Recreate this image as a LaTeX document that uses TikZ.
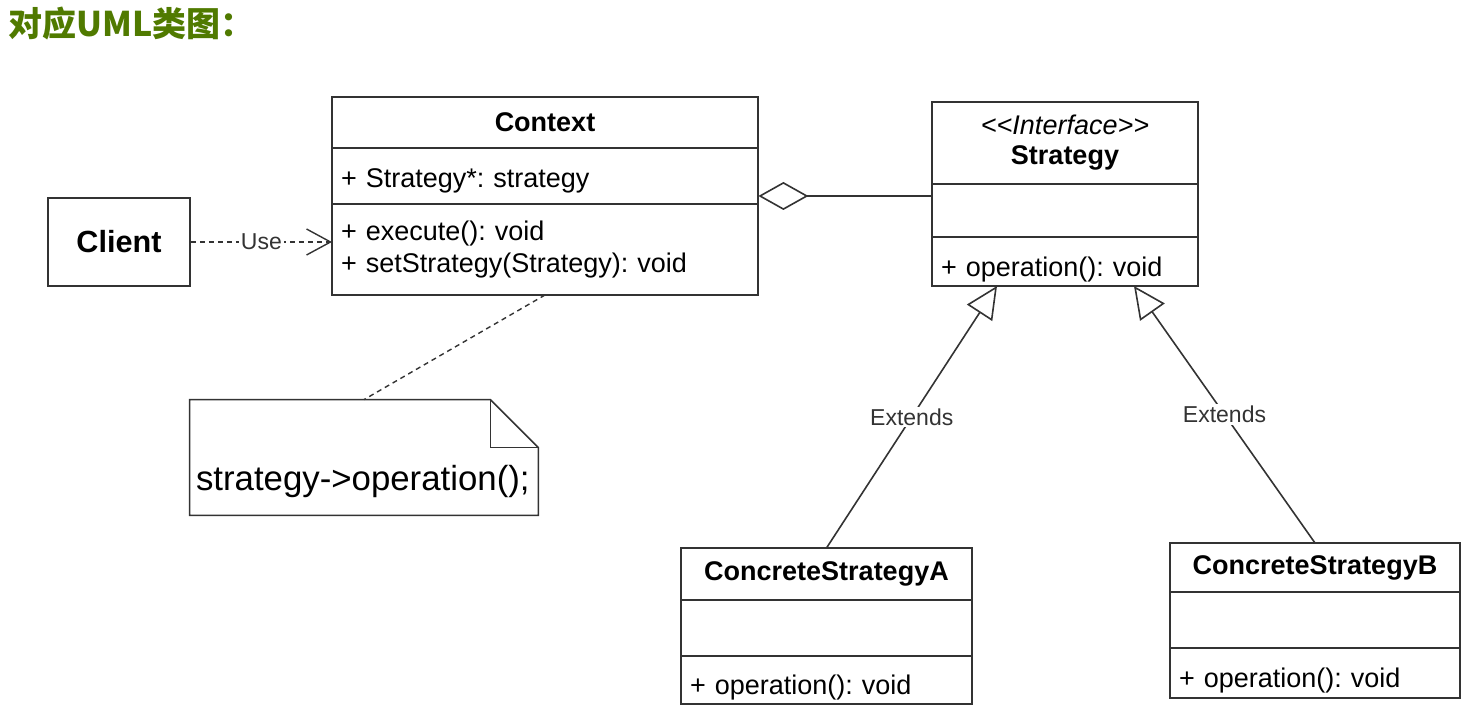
\documentclass[tikz,border=0pt]{standalone}
\usepackage{fontspec}
\setmainfont{Liberation Sans}
\newfontfamily\cjk{Noto Sans CJK SC}
\usepackage{tikz}
\usetikzlibrary{
    arrows.meta,
    positioning,
    fit
}
\usepackage{xcolor}
\frenchspacing
\definecolor{titlegreen}{RGB}{80,122,0}
\definecolor{umlline}{RGB}{51,51,51}
\tikzstyle{classname} = [
    rectangle,
    draw=umlline,
    line width=0.8pt,
    outer sep=0pt,
    inner sep=0pt,
    text centered,
    font=\fontsize{13.5}{16}\selectfont\bfseries
]
\tikzstyle{classpart} = [
    rectangle,
    draw=umlline,
    line width=0.8pt,
    outer sep=0pt,
    inner xsep=4.5pt,
    inner ysep=0pt,
    align=left,
    font=\fontsize{13.5}{16}\selectfont
]
\tikzstyle{oppart} = [
    classpart,
    text height=15pt,
    text depth=0pt
]
\tikzstyle{plainbox} = [
    rectangle,
    draw=umlline,
    line width=0.8pt,
    minimum width=71pt,
    minimum height=44pt,
    font=\fontsize{15.3}{18}\selectfont\bfseries
]
\tikzstyle{dep} = [
    draw=umlline,
    line width=0.7pt,
    dash pattern=on 2.5pt off 2pt,
    -{Straight Barb[length=12pt,width=13pt]}
]
\tikzstyle{aggr} = [
    draw=umlline,
    line width=0.8pt,
    {Diamond[open,fill=white,length=25pt,width=14pt]}-
]
\tikzstyle{extends} = [
    draw=umlline,
    line width=0.8pt,
    -{Triangle[open,fill=white,length=16pt,width=15pt]}
]
\tikzstyle{notelink} = [
    draw=umlline,
    line width=0.7pt,
    dash pattern=on 2.5pt off 2pt
]
\tikzstyle{noteline} = [
    draw=umlline,
    line width=0.8pt,
    line join=miter
]
\tikzstyle{linklabel} = [
    fill=white,
    inner sep=1pt,
    text=black!80,
    font=\fontsize{11.5}{14}\selectfont
]

\begin{document}
\begin{tikzpicture}[x=0.5pt, y=-0.5pt]
        \useasboundingbox (0,0) rectangle (1474,721);

        \node[anchor=west, inner sep=0pt, text=titlegreen,
              font=\cjk\bfseries\fontsize{17}{19}\selectfont] (title) at (8,24) {对应UML类图：};

        % Context
        \node[classname, minimum width=213pt, minimum height=25.5pt] (ctxname) at (545,122.5) {Context};
        \node[classpart, text width=204pt, minimum height=28pt, text height=12pt, text depth=0.5pt,
              below=0pt of ctxname] (ctxattr) {+ Strategy*: strategy};
        \node[classpart, text width=204pt, minimum height=45.5pt, below=0pt of ctxattr] (ctxops)
            {+ execute(): void\\+ setStrategy(Strategy): void};
        \node[fit=(ctxname)(ctxops), inner sep=0pt] (context) {};

        % Strategy
        \node[classname, minimum width=133pt, minimum height=41pt, align=center] (stratname) at (1065,143)
            {\textmd{\textit{<{}<Interface>{}>}}\\[-1pt]Strategy};
        \node[classpart, text width=124pt, minimum height=26.5pt, below=0pt of stratname] (stratattr) {};
        \node[oppart, text width=124pt, minimum height=24.5pt, below=0pt of stratattr] (stratops) {+ operation(): void};

        % ConcreteStrategyA
        \node[classname, minimum width=145.5pt, minimum height=26pt] (csaname) at (826.5,574) {ConcreteStrategyA};
        \node[classpart, text width=136.5pt, minimum height=28pt, below=0pt of csaname] (csaattr) {};
        \node[oppart, text width=136.5pt, minimum height=24pt, below=0pt of csaattr] (csaops) {+ operation(): void};

        % ConcreteStrategyB
        \node[classname, minimum width=145pt, minimum height=24.5pt] (csbname) at (1315,567.5) {ConcreteStrategyB};
        \node[classpart, text width=136pt, minimum height=28pt, below=0pt of csbname] (csbattr) {};
        \node[oppart, text width=136pt, minimum height=25pt, below=0pt of csbattr] (csbops) {+ operation(): void};

        % Client and note
        \node[plainbox] (client) at (119,242) {Client};
        \node[minimum width=174pt, minimum height=57.5pt, inner sep=0pt] (note) at (364,457.5) {};
        \draw[noteline] (note.south west) -- (note.north west) -- ([xshift=-24pt]note.north east)
            -- ([yshift=-24pt]note.north east) -- (note.south east) -- cycle;
        \draw[noteline] ([xshift=-24pt]note.north east) -- ([xshift=-24pt,yshift=-24pt]note.north east)
            -- ([yshift=-24pt]note.north east);
        \node[anchor=west, inner xsep=3pt, font=\fontsize{17.4}{20}\selectfont] (notetxt)
            at ([yshift=17pt]note.south west) {strategy->operation();};

        \coordinate (inhA) at ([xshift=32.5pt]stratops.south west);
        \coordinate (inhB) at ([xshift=-32pt]stratops.south east);

        \draw[dep] (client.east) -- node[linklabel] {Use} (client.east -| ctxops.west);
        \draw[aggr] (context.east) -- (context.east -| stratname.west);
        \draw[notelink] (ctxops.south) -- (note.north);
        \draw[extends] (csaname.north) -- node[linklabel] {Extends} (inhA);
        \draw[extends] (csbname.north) -- node[linklabel] {Extends} (inhB);
    \end{tikzpicture}
\end{document}
